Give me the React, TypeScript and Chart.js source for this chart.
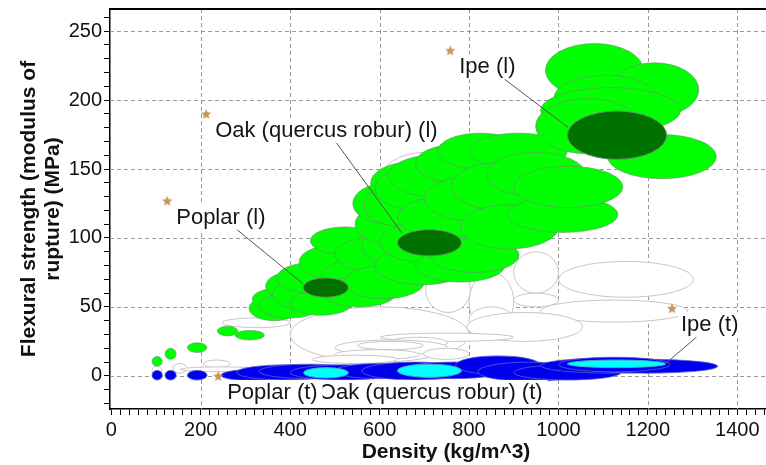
import React, { useEffect, useRef } from 'react';
import { Chart, registerables } from 'chart.js';

Chart.register(...registerables);

// Axis setup
const X_MAJOR_STEP = 200;
const Y_MAJOR_STEP = 50;
const X_TICKS = [0, 200, 400, 600, 800, 1000, 1200, 1400];
const Y_TICKS = [0, 50, 100, 150, 200, 250];
const X_MIN = -3;
const X_MAX = 1500;
const Y_MIN = -24;
const Y_MAX = 266;
const X_TITLE = 'Density (kg/m^3)';
const Y_TITLE = ['Flexural strength (modulus of', 'rupture) (MPa)'];

// Property envelopes: [densityMin, densityMax, strengthMin, strengthMax]
const OTHER_MATERIALS: number[][] = [
  [91, 113, 1, 7], [138, 169, 2, 9], [206, 266, 6, 11.5], [154, 340, 3, 6.5], [248, 400, 35, 42],
  [600, 800, 120, 162], [400, 800, 10, 50], [703, 803, 46, 79], [800, 900, 33, 75], [900, 1000, 60, 90],
  [900, 1000, 50, 60], [800, 900, 31, 50], [1000, 1302, 57, 83], [960, 1289, 39, 55], [795, 1054, 25, 46],
  [602, 900, 25, 31], [620, 752, 20, 28], [500, 752, 15, 26], [550, 698, 19, 25], [500, 690, 12, 19],
  [698, 800, 12, 20], [450, 640, 9, 15],
];
const TRANSVERSE: number[][] = [
  [91, 114, -3, 4], [120, 145, -3, 4], [170, 214, -3, 4], [245, 420, -4, 5], [280, 500, -3, 8],
  [330, 560, -2, 8.5], [400, 640, -3, 8], [500, 700, -2, 9], [560, 800, -3, 10], [650, 880, -2, 10],
  [770, 960, 1, 14.5], [820, 1050, -4, 10], [900, 1140, -3, 8], [960, 1280, 2, 13], [1040, 1356, 2, 12],
  [1000, 1250, 3, 13.5],
];
const LONGITUDINAL: number[][] = [
  [91, 114, 7, 14], [120, 145, 12, 20], [170, 214, 17, 24], [237, 283, 29, 36], [277, 342, 26, 33],
  [308, 420, 40, 58], [315, 445, 47, 64], [330, 470, 42, 60], [345, 480, 54, 76], [360, 500, 48, 70],
  [370, 520, 60, 82], [400, 540, 44, 62], [420, 580, 70, 95], [470, 600, 58, 84], [445, 600, 88, 108],
  [470, 640, 50, 72], [500, 660, 76, 100], [520, 700, 56, 80], [560, 740, 80, 108], [545, 720, 95, 125],
  [540, 700, 110, 140], [565, 740, 108, 140], [580, 760, 125, 155], [590, 780, 120, 152], [620, 820, 130, 160],
  [680, 870, 140, 168], [730, 920, 150, 176], [800, 1020, 150, 176], [590, 800, 66, 94], [600, 820, 82, 112],
  [680, 880, 68, 92], [714, 912, 75, 100], [640, 860, 100, 130], [700, 930, 112, 145], [760, 990, 120, 155],
  [840, 1060, 130, 162], [780, 1000, 92, 124], [886, 1133, 104, 130], [900, 1144, 122, 152],
  [971, 1190, 202, 241], [1116, 1314, 188, 227], [990, 1220, 185, 218], [960, 1273, 176, 209],
  [949, 1183, 161, 201], [1110, 1353, 143, 175],
];
const HIGHLIGHT_L: number[][] = [[429, 530, 57, 71], [640, 783, 87, 106], [1020, 1242, 157, 192]];
const HIGHLIGHT_T: number[][] = [[430, 530, -1.5, 6], [640, 783, -1, 8.5], [1020, 1240, 6, 11.5]];

// Labels (anchor in data units) and leader targets
const LABEL_TEXT = ['Poplar (l)', 'Oak (quercus robur) (l)', 'Ipe (l)', 'Oak (quercus robur) (t)', 'Poplar (t)', 'Ipe (t)'];
const LABEL_X = [125, 212, 758, 444, 239, 1254];
const LABEL_Y = [127, 190, 236, 0, 0, 49];
const LEADER_X = [429, 650, 1022, null, null, 1239];
const LEADER_Y = [66.7, 103.6, 180, null, null, 8.7];

// Star markers
const STAR_X = [125, 212, 758, 239, 1254];
const STAR_Y = [127, 190, 236, 0, 49];

const FONT = "'Liberation Sans', Arial, sans-serif";

function makeStar(): HTMLCanvasElement {
  const c = document.createElement('canvas');
  c.width = 12;
  c.height = 12;
  const g = c.getContext('2d')!;
  g.fillStyle = '#c8945c';
  g.beginPath();
  for (let i = 0; i < 10; i++) {
    const r = i % 2 === 0 ? 5.5 : 2.4;
    const a = -Math.PI / 2 + (i * Math.PI) / 5;
    const px = 6 + r * Math.cos(a);
    const py = 6.5 + r * Math.sin(a);
    if (i === 0) g.moveTo(px, py);
    else g.lineTo(px, py);
  }
  g.closePath();
  g.fill();
  return c;
}

function drawEllipses(chart: any, list: number[][], fill: string, stroke: string, lw: number) {
  const ctx = chart.ctx;
  const xs = chart.scales.x;
  const ys = chart.scales.y;
  for (const [x0, x1, y0, y1] of list) {
    const a = xs.getPixelForValue(x0);
    const b = xs.getPixelForValue(x1);
    const c = ys.getPixelForValue(y1);
    const d = ys.getPixelForValue(y0);
    ctx.beginPath();
    ctx.ellipse((a + b) / 2, (c + d) / 2, Math.abs(b - a) / 2, Math.abs(d - c) / 2, 0, 0, Math.PI * 2);
    ctx.fillStyle = fill;
    ctx.fill();
    ctx.strokeStyle = stroke;
    ctx.lineWidth = lw;
    ctx.stroke();
  }
}

function drawGrid(chart: any) {
  const ctx = chart.ctx;
  const ca = chart.chartArea;
  const xs = chart.scales.x;
  const ys = chart.scales.y;
  ctx.save();
  ctx.fillStyle = '#999999';
  X_TICKS.forEach((v) => {
    if (v === 0) return;
    const p = Math.round(xs.getPixelForValue(v));
    for (let y = ca.top; y < ca.bottom; y += 7) ctx.fillRect(p, y, 1, Math.min(4, ca.bottom - y));
  });
  Y_TICKS.forEach((v) => {
    const p = Math.round(ys.getPixelForValue(v));
    for (let x = ca.left; x < ca.right; x += 7) ctx.fillRect(x, p, Math.min(4, ca.right - x), 1);
  });
  // top frame line
  ctx.fillStyle = '#000000';
  ctx.fillRect(ca.left, ca.top - 1, ca.right - ca.left, 2);
  ctx.restore();
}

const envelopePlugin = {
  id: 'envelopes',
  beforeDatasetsDraw(chart: any) {
    const ctx = chart.ctx;
    const ca = chart.chartArea;
    drawGrid(chart);
    ctx.save();
    ctx.beginPath();
    ctx.rect(ca.left, ca.top, ca.right - ca.left, ca.bottom - ca.top);
    ctx.clip();
    drawEllipses(chart, OTHER_MATERIALS, '#ffffff', '#c6c6c6', 1);
    drawEllipses(chart, TRANSVERSE, '#0000ee', '#5a5ad6', 0.8);
    drawEllipses(chart, LONGITUDINAL, '#00ff00', 'rgba(110,140,110,0.75)', 0.8);
    drawEllipses(chart, HIGHLIGHT_L, '#007200', '#6a8f6a', 1);
    drawEllipses(chart, HIGHLIGHT_T, '#00ffff', '#4aa8c8', 1);
    ctx.restore();
  },
  afterDatasetsDraw(chart: any) {
    const ctx = chart.ctx;
    const xs = chart.scales.x;
    const ys = chart.scales.y;
    ctx.save();
    ctx.font = `22px ${FONT}`;
    ctx.textAlign = 'left';
    ctx.textBaseline = 'alphabetic';
    LABEL_TEXT.forEach((t, i) => {
      const sx = xs.getPixelForValue(LABEL_X[i]);
      const sy = ys.getPixelForValue(LABEL_Y[i]);
      const tx = sx + 9;
      const base = sy + 23;
      const w = ctx.measureText(t).width;
      const l = tx - 3;
      const r = tx + w + 5;
      const top = base - 19;
      const bot = base + 6;
      const lx = LEADER_X[i];
      const ly = LEADER_Y[i];
      if (lx !== null && ly !== null) {
        ctx.beginPath();
        ctx.moveTo((l + r) / 2, (top + bot) / 2);
        ctx.lineTo(xs.getPixelForValue(lx), ys.getPixelForValue(ly));
        ctx.strokeStyle = '#555555';
        ctx.lineWidth = 1;
        ctx.stroke();
      }
      ctx.fillStyle = '#ffffff';
      ctx.fillRect(l, top, r - l, bot - top);
      ctx.fillStyle = '#151515';
      ctx.fillText(t, tx, base);
    });
    ctx.restore();
  },
};

function stepTicks(min: number, max: number, step: number) {
  const out: { value: number }[] = [];
  const start = Math.ceil(min / step) * step;
  for (let v = start; v <= max; v += step) out.push({ value: v });
  return out;
}

export default function App() {
  const ref = useRef<HTMLCanvasElement | null>(null);
  useEffect(() => {
    document.body.style.overflow = 'hidden';
    const canvas = ref.current;
    if (!canvas) return;
    canvas.getContext('2d', { willReadFrequently: true } as any);
    const star = makeStar();
    const chart = new Chart(canvas, {
      type: 'scatter',
      data: {
        datasets: [
          {
            label: 'markers',
            data: STAR_X.map((x, i) => ({ x, y: STAR_Y[i] })),
            pointStyle: star as any,
            pointRadius: 6,
            backgroundColor: '#c8945c',
            borderColor: '#c8945c',
          },
        ],
      },
      options: {
        animation: false,
        responsive: false,
        devicePixelRatio: 1,
        layout: { padding: { top: 9, right: 0, bottom: 0, left: 0 }, autoPadding: false },
        plugins: { legend: { display: false }, tooltip: { enabled: false } },
        scales: {
          x: {
            type: 'linear',
            min: X_MIN,
            max: X_MAX,
            afterBuildTicks: (s: any) => {
              s.ticks = stepTicks(0, X_MAX, 20);
            },
            afterFit: (s: any) => {
              s.height = 56;
              s.paddingLeft = 0;
              s.paddingRight = 0;
              s.paddingTop = 0;
              s.paddingBottom = 0;
            },
            grid: {
              display: true,
              drawOnChartArea: false,
              drawTicks: true,
              tickLength: 6,
              tickColor: '#000000',
              tickWidth: 1,
            },
            border: { display: true, color: '#000000', width: 1.5 },
            ticks: {
              padding: 3,
              maxRotation: 0,
              autoSkip: false,
              color: '#111111',
              font: { family: FONT, size: 20 },
              callback: (v: any) => (Number(v) % X_MAJOR_STEP === 0 ? String(v) : ''),
            },
            title: {
              display: true,
              text: X_TITLE,
              color: '#111111',
              font: { family: FONT, size: 21, weight: 'bold', lineHeight: 1.2 },
              padding: { top: 0, bottom: 0 },
            },
          },
          y: {
            type: 'linear',
            min: Y_MIN,
            max: Y_MAX,
            afterBuildTicks: (s: any) => {
              s.ticks = stepTicks(-20, Y_MAX, 10);
            },
            afterFit: (s: any) => {
              s.width = 110;
              s.paddingLeft = 0;
              s.paddingRight = 0;
              s.paddingTop = 0;
              s.paddingBottom = 0;
            },
            grid: {
              display: true,
              drawOnChartArea: false,
              drawTicks: true,
              tickLength: 6,
              tickColor: '#000000',
              tickWidth: 1,
            },
            border: { display: true, color: '#000000', width: 1.5 },
            ticks: {
              padding: 2,
              autoSkip: false,
              color: '#111111',
              font: { family: FONT, size: 20 },
              callback: (v: any) => (Number(v) % Y_MAJOR_STEP === 0 ? String(v) : ''),
            },
            title: {
              display: true,
              text: Y_TITLE,
              color: '#111111',
              font: { family: FONT, size: 21, weight: 'bold', lineHeight: 1.15 },
              padding: { top: 17, bottom: 0 },
            },
          },
        },
      },
      plugins: [envelopePlugin],
    });
    return () => chart.destroy();
  }, []);
  return (
    <div style={{ position: 'fixed', left: 0, top: 0, width: 782, height: 465, background: '#fff' }}>
      <canvas ref={ref} width={782} height={465} style={{ width: 782, height: 465, display: 'block' }} />
    </div>
  );
}
